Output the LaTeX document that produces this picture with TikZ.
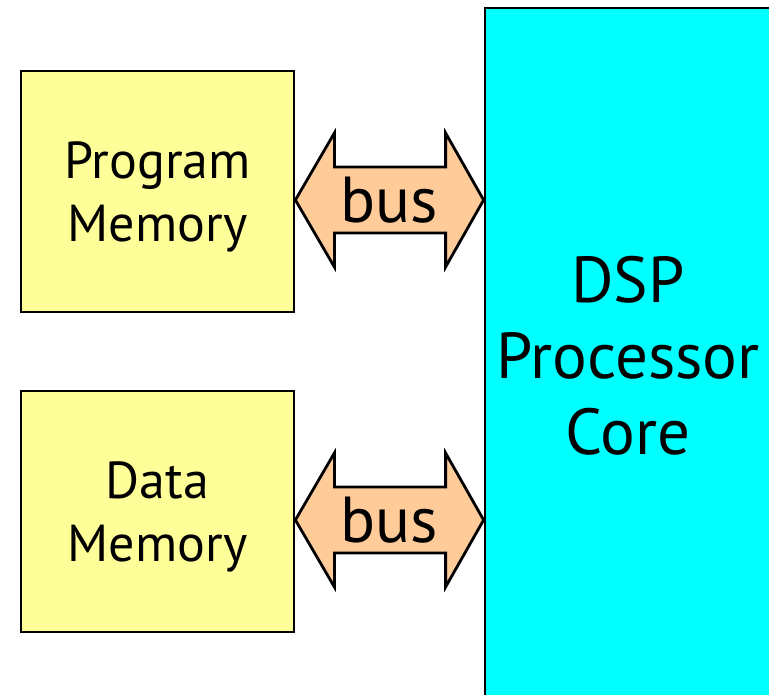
\documentclass[tikz,border=0pt]{standalone}
\usepackage{fontspec}
\setmainfont{PT Sans}
\usetikzlibrary{calc}
\definecolor{memyellow}{HTML}{FFFF99}
\definecolor{corecyan}{HTML}{00FFFF}
\definecolor{busorange}{HTML}{FFCC99}
\tikzset{
  membox/.style={draw=black, line width=2.8pt, fill=memyellow, minimum width=273pt, minimum height=241pt, inner sep=0pt},
  memtext/.style={inner sep=0pt, align=center, font=\fontsize{52}{63}\selectfont},
  corebox/.style={draw=black, line width=2.8pt, fill=corecyan, minimum width=286pt, minimum height=696pt, inner sep=0pt, align=center, font=\fontsize{65}{76}\selectfont},
  busarrow/.style={draw=black, line width=2.8pt, fill=busorange, line join=miter},
  buslabel/.style={inner sep=0pt, font=\fontsize{65}{76}\selectfont}
}
\begin{document}
\begin{tikzpicture}[x=1pt,y=1pt]
\useasboundingbox (0,0) rectangle (769,694);
\clip (0,0) rectangle (769,694);
\node[corebox] (core) at (628,338) {DSP\\Processor\\Core};
\node[membox] (pm) at (157.5,502.5) {};
\node[memtext] (pmt) at ($(pm.center)+(0,-5)$) {Program\\Memory};
\node[membox] (dm) at (157.5,182.5) {};
\node[memtext] (dmt) at ($(dm.center)+(0,-5)$) {Data\\Memory};
% bus 1
\coordinate (L1) at (pm.east |- 0,494);
\coordinate (R1) at (core.west |- 0,494);
\draw[busarrow] (L1) -- ++(39,67) -- ++(0,-34) -- ($(R1)+(-38,33)$) -- ++(0,34) -- (R1)
  -- ++(-38,-67) -- ++(0,34) -- ($(L1)+(39,-33)$) -- ++(0,-34) -- cycle;
\node[buslabel] (b1) at ($(L1)!0.5!(R1)$) {bus};
% bus 2
\coordinate (L2) at (dm.east |- 0,174);
\coordinate (R2) at (core.west |- 0,174);
\draw[busarrow] (L2) -- ++(39,67) -- ++(0,-34) -- ($(R2)+(-38,33)$) -- ++(0,34) -- (R2)
  -- ++(-38,-67) -- ++(0,34) -- ($(L2)+(39,-33)$) -- ++(0,-34) -- cycle;
\node[buslabel] (b2) at ($(L2)!0.5!(R2)$) {bus};
\end{tikzpicture}
\end{document}
